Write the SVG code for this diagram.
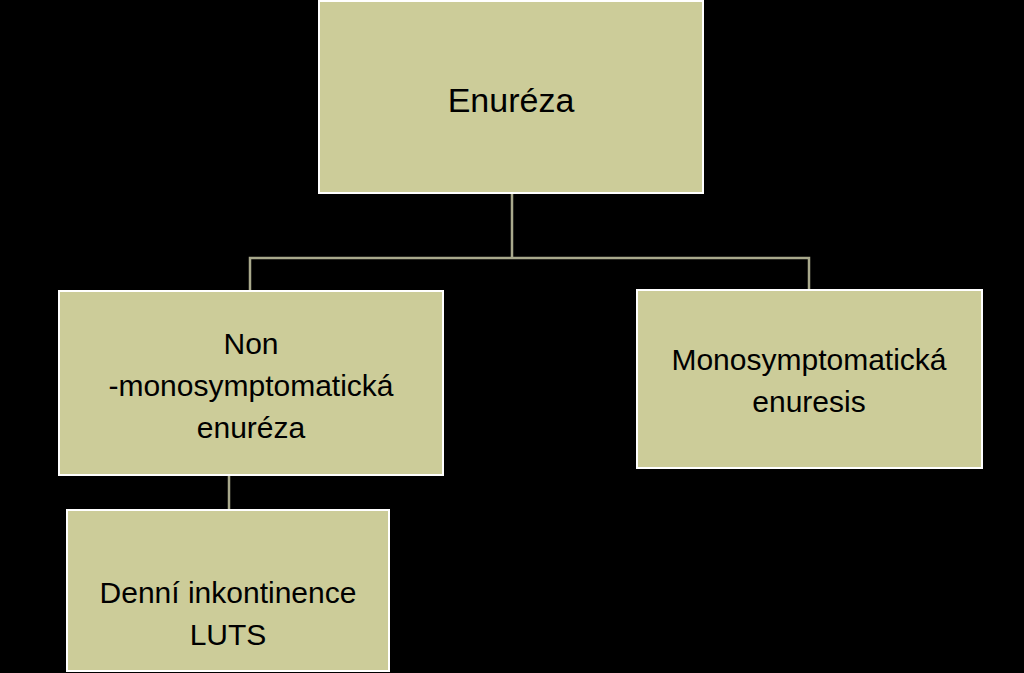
<svg xmlns="http://www.w3.org/2000/svg" width="1024" height="673" viewBox="0 0 1024 673">
<style>
.box{fill:#cccc99;stroke:#ffffff;stroke-width:2}
.t{font-family:"Liberation Sans",Arial,sans-serif;fill:#000;text-anchor:middle}
.c{stroke:#a9a98c;stroke-width:2.5;fill:none}
</style>
<rect width="1024" height="673" fill="#000"/>
<g id="connectors">
<path class="c" d="M512 193V258M250 291V258H809V290M229 475V510"/>
</g>
<g id="n1"><rect class="box" x="319" y="1" width="384" height="192"/><text class="t" x="511" y="112" font-size="34">Enuréza</text></g>
<g id="n2"><rect class="box" x="59" y="291" width="384" height="184"/><text class="t" font-size="30"><tspan x="251" y="354">Non</tspan><tspan x="251" y="396">-monosymptomatická</tspan><tspan x="251" y="438">enuréza</tspan></text></g>
<g id="n3"><rect class="box" x="637" y="290" width="345" height="178"/><text class="t" font-size="30"><tspan x="809" y="370">Monosymptomatická</tspan><tspan x="809" y="412">enuresis</tspan></text></g>
<g id="n4"><rect class="box" x="67" y="510" width="322" height="161"/><text class="t" font-size="30"><tspan x="228" y="603">Denní inkontinence</tspan><tspan x="228" y="645">LUTS</tspan></text></g>
</svg>
